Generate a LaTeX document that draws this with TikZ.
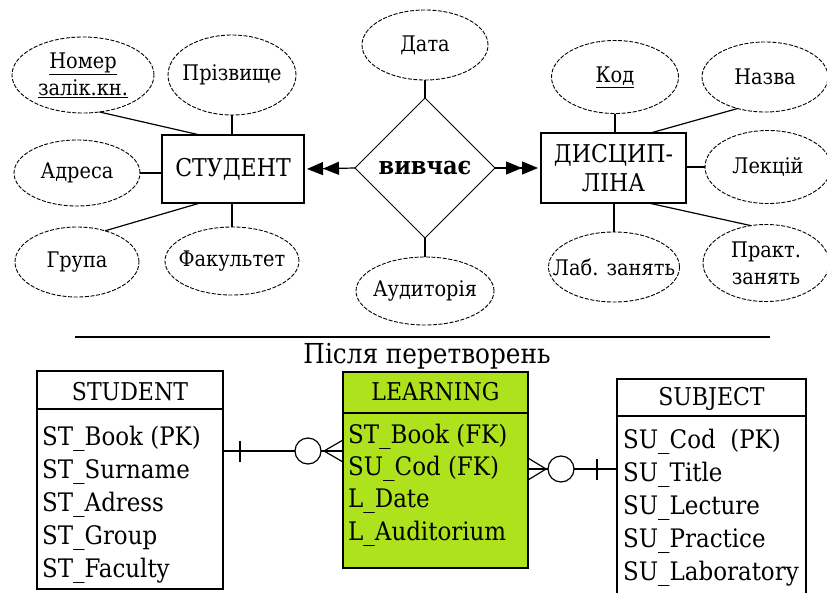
\documentclass[tikz,border=0pt]{standalone}
\usepackage{fontspec}
\setmainfont{DejaVu Serif Condensed}
\usetikzlibrary{shapes.geometric,arrows.meta,calc}
\definecolor{lime}{RGB}{173,226,28}
\begin{document}
\begin{tikzpicture}[x=1pt,y=-1pt,
  attr/.style={ellipse,draw,dash pattern=on 4pt off 1.6pt,line width=0.9pt,
    inner xsep=-16pt,inner ysep=-8pt,outer sep=0pt,align=center,
    font=\fontsize{21.5}{27}\selectfont},
  ent/.style={rectangle,draw,line width=1.5pt,inner sep=0pt,outer sep=0pt,
    align=center,font=\fontsize{24.5}{29}\selectfont},
  link/.style={line width=1.2pt},
  dbl/.style={line width=1.2pt,
    -{Triangle[length=16pt,width=13pt]Triangle[length=16pt,width=13pt]},
    shorten >=3pt},
  tbl/.style={rectangle,draw,line width=1.6pt,inner sep=0pt,outer sep=0pt,
    anchor=north west},
  ttext/.style={anchor=base west,inner sep=0pt,font=\fontsize{25.5}{25.5}\selectfont},
  thead/.style={anchor=base,inner sep=0pt,font=\fontsize{24.5}{24.5}\selectfont},
  crow/.style={line width=1.2pt},
  ring/.style={circle,draw,line width=1.2pt,minimum size=26pt,inner sep=0pt,outer sep=0pt}
]
\useasboundingbox (0,0) rectangle (827,592);

% ---------- ER diagram: entities ----------
\node[ent,minimum width=142pt,minimum height=68pt] (st) at (233,169) {СТУДЕНТ};
\node[ent,minimum width=145pt,minimum height=70pt] (dis) at (613.5,168) {ДИСЦИП-\\ЛІНА};

% relationship
\node[diamond,draw,line width=0.9pt,minimum width=140pt,minimum height=140pt,
  inner sep=0pt,outer sep=0pt,font=\bfseries\fontsize{25}{25}\selectfont]
  (rel) at (425,168) {вивчає};

% attributes of СТУДЕНТ
\node[attr,minimum width=142pt,minimum height=76pt] (num) at (83,75)
  {\underline{Номер}\\\underline{залік.кн.}};
\node[attr,minimum width=128pt,minimum height=80pt] (sur) at (232,75) {Прізвище};
\node[attr,minimum width=126pt,minimum height=66pt] (adr) at (77,173) {Адреса};
\node[attr,minimum width=124pt,minimum height=70pt] (grp) at (77,262) {Група};
\node[attr,minimum width=134pt,minimum height=68pt] (fac) at (232,261) {Факультет};

% attributes of the relationship
\node[attr,minimum width=126pt,minimum height=70pt] (date) at (425,45) {Дата};
\node[attr,minimum width=138pt,minimum height=68pt] (aud) at (425,291) {Аудиторія};

% attributes of ДИСЦИПЛІНА
\node[attr,minimum width=127pt,minimum height=73pt] (kod) at (615,77) {\underline{Код}};
\node[attr,minimum width=126pt,minimum height=70pt] (naz) at (765,77) {Назва};
\node[attr,minimum width=126pt,minimum height=73pt] (lek) at (768,167) {Лекцій};
\node[attr,minimum width=131pt,minimum height=70pt] (lab) at (614,267) {Лаб. занять};
\node[attr,minimum width=126pt,minimum height=77pt] (prak) at (766,263) {Практ.\\занять};

% attribute links
\draw[link] (num.-66) -- ([xshift=-33pt]st.north);
\draw[link] (sur.south) -- (sur.south |- st.north);
\draw[link] (adr.east) -- (adr.east -| st.west);
\draw[link] (grp.48) -- ([xshift=-33pt]st.south);
\draw[link] (fac.north) -- (fac.north |- st.south);
\draw[link] (date.south) -- (rel.north);
\draw[link] (aud.north) -- (rel.south);
\draw[link] (kod.south) -- (kod.south |- dis.north);
\draw[link] (naz.-131) -- ([xshift=37pt]dis.north);
\draw[link] (lek.west) -- (lek.west -| dis.east);
\draw[link] (lab.north) -- (lab.north |- dis.south);
\draw[link] (prak.112) -- ([xshift=35pt]dis.south);

% relationship links
\draw[dbl] (rel.west) -- (st.east);
\draw[dbl] (rel.east) -- (dis.west);

% ---------- separator and caption ----------
\coordinate (ruleL) at (75,337);
\coordinate (ruleR) at (770,337);
\draw[line width=1.5pt] (ruleL) -- (ruleR);
\node[anchor=base,inner sep=0pt,font=\fontsize{27.5}{27.5}\selectfont] (cap) at (427,363)
  {Після перетворень};

% ---------- relational tables ----------
% STUDENT
\node[tbl,minimum width=186pt,minimum height=38pt] (sth) at (37,371) {};
\node[tbl,minimum width=186pt,minimum height=180pt] (stb) at (37,409) {};
\node[thead] (sthT) at (130,400) {STUDENT};
\node[ttext] (st1) at (42,445) {ST\_Book (PK)};
\node[ttext] (st2) at (42,478) {ST\_Surname};
\node[ttext] (st3) at (42,511) {ST\_Adress};
\node[ttext] (st4) at (42,544) {ST\_Group};
\node[ttext] (st5) at (42,577) {ST\_Faculty};

% LEARNING
\node[tbl,fill=lime,minimum width=185pt,minimum height=41pt] (leh) at (343,372) {};
\node[tbl,fill=lime,minimum width=185pt,minimum height=155pt] (leb) at (343,413) {};
\node[thead] (lehT) at (435.5,400) {LEARNING};
\node[ttext] (le1) at (348,443) {ST\_Book (FK)};
\node[ttext] (le2) at (348,475) {SU\_Cod (FK)};
\node[ttext] (le3) at (348,507) {L\_Date};
\node[ttext] (le4) at (348,540) {L\_Auditorium};

% SUBJECT
\node[tbl,minimum width=189pt,minimum height=37pt] (suh) at (617,379) {};
\node[tbl,minimum width=189pt,minimum height=190pt] (sub) at (617,416) {};
\node[thead] (suhT) at (711.5,405) {SUBJECT};
\node[ttext] (su1) at (623,448) {SU\_Cod\ \ (PK)};
\node[ttext] (su2) at (623,481) {SU\_Title};
\node[ttext] (su3) at (623,514) {SU\_Lecture};
\node[ttext] (su4) at (623,547) {SU\_Practice};
\node[ttext] (su5) at (623,580) {SU\_Laboratory};

% ---------- STUDENT -- LEARNING (one to zero-or-many) ----------
\coordinate (a1) at (stb.east |- 0,451);
\coordinate (a2) at (leb.west |- 0,451);
\node[ring] (r1) at (308,451) {};
\coordinate (cf1) at (324,451);
\draw[link] (a1) -- (r1);
\draw[link] ([xshift=17pt]a1) ++(0,-10.5) -- ++(0,21);
\draw[link] (r1) -- (cf1);
\draw[crow] (cf1) -- ([yshift=11pt]a2);
\draw[crow] (cf1) -- (a2);
\draw[crow] (cf1) -- ([yshift=-11pt]a2);

% ---------- LEARNING -- SUBJECT (zero-or-many to one) ----------
\coordinate (b1) at (leb.east |- 0,469);
\coordinate (b2) at (sub.west |- 0,469);
\node[ring] (r2) at (561,469) {};
\coordinate (cf2) at (546,469);
\draw[link] (b2) -- (r2);
\draw[link] ([xshift=-20pt]b2) ++(0,-10.5) -- ++(0,21);
\draw[link] (r2) -- (cf2);
\draw[crow] (cf2) -- ([yshift=11pt]b1);
\draw[crow] (cf2) -- (b1);
\draw[crow] (cf2) -- ([yshift=-11pt]b1);
\end{tikzpicture}
\end{document}
